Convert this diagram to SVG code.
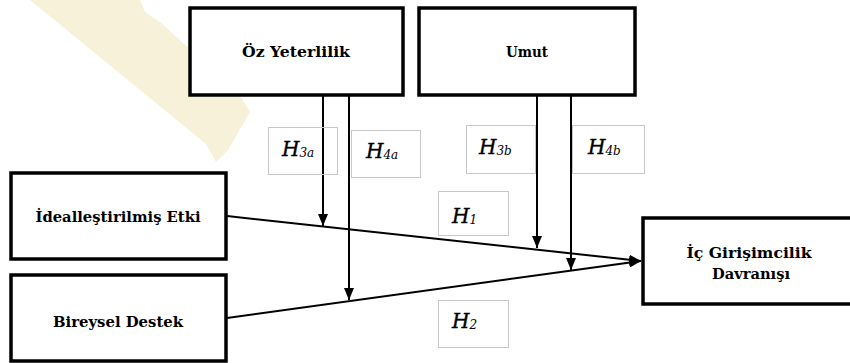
<svg xmlns="http://www.w3.org/2000/svg" width="850" height="363" viewBox="0 0 850 363">
<style>
.box{fill:#fff;stroke:#000;stroke-width:3.5}
.lbl{fill:none;stroke:#c8c8c8;stroke-width:1}
.t{font-family:'DejaVu Serif',serif;font-weight:bold;font-size:15px;fill:#000;text-anchor:middle}
.h{font-family:'DejaVu Serif',serif;font-style:italic;font-size:20px;fill:#000;stroke:#000;stroke-width:0.4}
.s{font-size:12px;stroke-width:0}
.ln{stroke:#000;stroke-width:2;fill:none}
</style>
<defs>
<marker id="ar" viewBox="0 0 12 10" refX="12" refY="5" markerWidth="12" markerHeight="10" markerUnits="userSpaceOnUse" orient="auto">
<path d="M0,0 L12,5 L0,10 z" fill="#000"/>
</marker>
</defs>
<rect width="850" height="363" fill="#fff"/>
<polygon points="30,0 140,0 145,12 160,22 240,95 250,112 228,150 216,162 206,144" fill="#f6efd2" opacity="0.85"/>
<g id="connectors">
<line class="ln" x1="227" y1="216" x2="641" y2="261" marker-end="url(#ar)"/>
<line class="ln" x1="227" y1="318" x2="641" y2="261" marker-end="url(#ar)"/>
<line class="ln" x1="323" y1="95" x2="323" y2="226" marker-end="url(#ar)"/>
<line class="ln" x1="349" y1="95" x2="349" y2="300" marker-end="url(#ar)"/>
<line class="ln" x1="537" y1="95" x2="537" y2="248" marker-end="url(#ar)"/>
<line class="ln" x1="571" y1="95" x2="571" y2="270" marker-end="url(#ar)"/>
</g>
<g id="oz-yeterlilik">
<rect class="box" x="190" y="8" width="213" height="87"/>
<text class="t" x="296" y="57" textLength="108" lengthAdjust="spacingAndGlyphs">Öz Yeterlilik</text>
</g>
<g id="umut">
<rect class="box" x="419" y="8" width="216" height="87"/>
<text class="t" x="527" y="57" textLength="42" lengthAdjust="spacingAndGlyphs">Umut</text>
</g>
<g id="idealestirilmis-etki">
<rect class="box" x="11" y="173" width="215" height="86"/>
<text class="t" x="118" y="222" textLength="165" lengthAdjust="spacingAndGlyphs">İdealleştirilmiş  Etki</text>
</g>
<g id="bireysel-destek">
<rect class="box" x="11" y="275" width="215" height="86"/>
<text class="t" x="118" y="327" textLength="130" lengthAdjust="spacingAndGlyphs">Bireysel Destek</text>
</g>
<g id="ic-girisimcilik">
<rect class="box" x="643" y="218" width="220" height="86"/>
<text class="t" x="749" y="258" textLength="125" lengthAdjust="spacingAndGlyphs">İç  Girişimcilik</text>
<text class="t" x="751" y="279" textLength="78" lengthAdjust="spacingAndGlyphs">Davranışı</text>
</g>
<g id="h3a">
<rect class="lbl" x="268.5" y="127.5" width="69" height="47"/>
<text class="h" x="282" y="156">H<tspan class="s" dy="1">3a</tspan></text>
</g>
<g id="h4a">
<rect class="lbl" x="351.5" y="130.5" width="69" height="47"/>
<text class="h" x="366" y="158">H<tspan class="s" dy="1">4a</tspan></text>
</g>
<g id="h3b">
<rect class="lbl" x="466.5" y="125.5" width="69" height="48"/>
<text class="h" x="479" y="154">H<tspan class="s" dy="1">3b</tspan></text>
</g>
<g id="h4b">
<rect class="lbl" x="572.5" y="125.5" width="72" height="48"/>
<text class="h" x="588" y="154">H<tspan class="s" dy="1">4b</tspan></text>
</g>
<g id="h1">
<rect class="lbl" x="438.5" y="191.5" width="70" height="44"/>
<text class="h" x="452" y="223">H<tspan class="s" dy="1">1</tspan></text>
</g>
<g id="h2">
<rect class="lbl" x="438.5" y="300.5" width="70" height="47"/>
<text class="h" x="452" y="328">H<tspan class="s" dy="1">2</tspan></text>
</g>
</svg>
